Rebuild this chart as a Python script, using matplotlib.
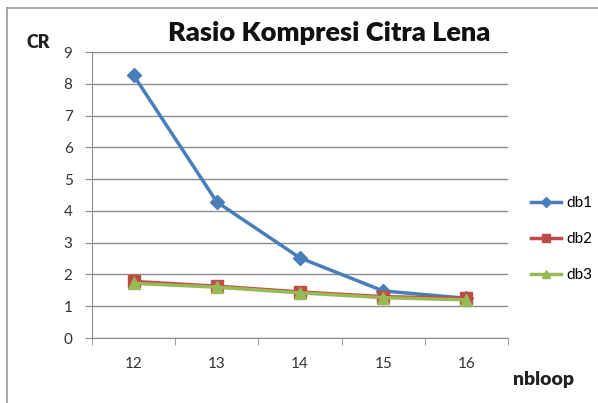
import matplotlib.pyplot as plt
import numpy as np

nbloop = ['12', '13', '14', '15', '16']
db1 = [8.27, 4.28, 2.52, 1.48, 1.25]
db2 = [1.78, 1.63, 1.45, 1.30, 1.25]
db3 = [1.72, 1.60, 1.42, 1.27, 1.20]
y_ticks = list(range(0, 10))

plt.rcParams['font.family'] = ['Lato', 'DejaVu Sans']

fig = plt.figure(figsize=(5.98, 4.03), dpi=100)
ax = fig.add_axes([92 / 598, 1 - 338 / 403, 416 / 598, 286 / 403])

x = np.arange(len(nbloop))
ax.plot(x, db1, color='#4a7ebb', lw=2.5, marker='D', ms=7, label='db1')
ax.plot(x, db2, color='#be4b48', lw=2.5, marker='s', ms=8, label='db2')
ax.plot(x, db3, color='#98b954', lw=2.5, marker='^', ms=8, label='db3')

ax.set_xlim(-0.5, len(nbloop) - 0.5)
ax.set_ylim(0, 9)
ax.set_yticks(y_ticks)
ax.yaxis.grid(True, color='#8c8c8c', lw=1)
ax.set_axisbelow(True)
ax.set_xticks(x)
ax.set_xticklabels(nbloop)
ax.set_xticks(np.arange(-0.5, len(nbloop)), minor=True)
ax.tick_params(axis='x', which='major', length=0, pad=14, labelsize=11, colors='#333333')
ax.tick_params(axis='x', which='minor', length=5, color='#8c8c8c')
ax.tick_params(axis='y', length=5, color='#8c8c8c', labelsize=11, colors='#333333', pad=9)

for s in ['top', 'right']:
    ax.spines[s].set_visible(False)
ax.spines['left'].set_color('#8c8c8c')
ax.spines['bottom'].set_color('#8c8c8c')

fig.text(329 / 598, 1 - 33 / 403, 'Rasio Kompresi Citra Lena', ha='center', va='center',
         fontsize=19.5, fontweight='heavy', color='#111111')
fig.text(38 / 598, 1 - 42 / 403, 'CR', ha='center', va='center', fontsize=13,
         fontweight='heavy', color='#222222')
fig.text(543 / 598, 1 - 380 / 403, 'nbloop', ha='center', va='center', fontsize=14,
         fontweight='heavy', color='#222222')

leg = ax.legend(loc='center left', bbox_to_anchor=(517 / 598, 1 - 239 / 403),
                bbox_transform=fig.transFigure, frameon=False, fontsize=11,
                handlelength=2.0, handletextpad=0.3, labelspacing=1.45, markerscale=0.8)

# outer frame of the chart area
fig.add_artist(plt.Line2D([7 / 598, 7 / 598], [0, 1 - 8 / 403], color='#9a9a9a', lw=1.2,
                          transform=fig.transFigure))
fig.add_artist(plt.Line2D([7 / 598, 1], [1 - 8 / 403, 1 - 8 / 403], color='#9a9a9a', lw=1.2,
                          transform=fig.transFigure))

fig.savefig('out.png', dpi=100)
